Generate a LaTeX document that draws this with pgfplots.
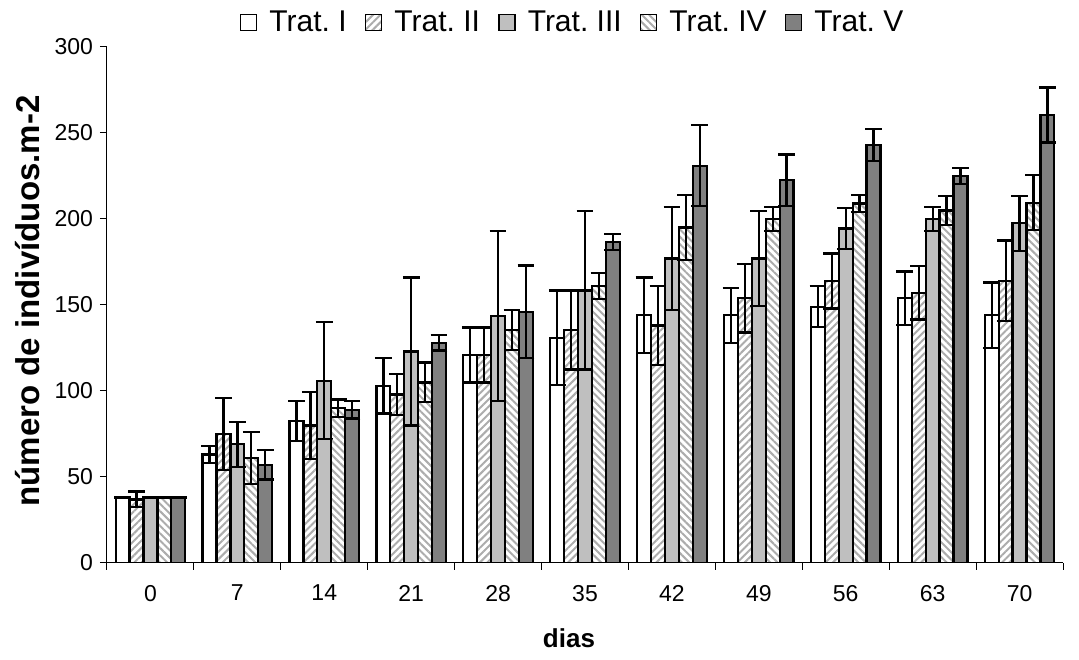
\documentclass[border=0pt]{standalone}
\usepackage{pgfplots}
\pgfplotsset{compat=1.18}
\usepackage{fontspec}
\setmainfont{Liberation Sans}
\usetikzlibrary{patterns,patterns.meta}
\begin{document}
\frenchspacing
\begin{tikzpicture}
\begin{axis}[
  scale only axis, width=478pt, height=258pt,
  xmin=-0.5, xmax=10.5, ymin=0, ymax=300,
  axis x line*=bottom, axis y line*=left,
  axis line style={line width=0.5pt},
  tick align=outside,
  xtick={0,...,10}, xticklabels={0,7,14,21,28,35,42,49,56,63,70},
  major x tick style={draw=none},
  minor xtick={-0.5,0.5,...,10.5},
  minor tick length=3.5pt, major tick length=3.5pt,
  minor x tick style={black, line width=0.5pt},
  ytick={0,50,...,300},
  y tick style={black, line width=0.5pt},
  /pgf/number format/assume math mode=true,
  tick label style={font=\fontsize{11.5}{13}\selectfont},
  xticklabel style={yshift=-4pt},
  xlabel={\textbf{dias}}, ylabel={\textbf{número de indivíduos.m-2}},
  xlabel style={font=\fontsize{13}{15}\selectfont, at={(axis description cs:0.5,0)}, anchor=center, yshift=-37.5pt, xshift=-8pt},
  ylabel style={font=\fontsize{16.5}{18}\selectfont, at={(axis description cs:0,0.5)}, anchor=center, yshift=39.5pt, xshift=2pt},
  ybar, bar width=0.16,
  every axis plot/.append style={draw=black, line width=1.15pt},
  error bars/error mark=|,
  error bars/error bar style={line width=1.15pt, black},
  error bars/error mark options={line width=1.15pt, black, mark size=4.2pt},
  legend columns=5,
  legend style={draw=none, fill=none, at={(0.488,1.047)}, anchor=center,
    font=\fontsize{15}{17}\selectfont,
    /tikz/every even column/.append style={column sep=7pt}},
  legend image code/.code={\draw[#1, line width=0.75pt] (0pt,-4pt) rectangle (8pt,4pt); \path[draw=none, fill=none, pattern=none] (0pt,0pt) -- (12.5pt,0pt);},
]
\addplot[fill=white, bar shift=-0.32, error bars/.cd, y dir=both, y explicit] coordinates {
 (0,38) +- (0,0) (1,63) +- (0,5) (2,82.5) +- (0,11.5) (3,103) +- (0,16)
 (4,121) +- (0,16) (5,131) +- (0,27.5) (6,144) +- (0,22) (7,144) +- (0,16)
 (8,149) +- (0,12) (9,154) +- (0,15.5) (10,144) +- (0,19)};
\addplot[pattern={Lines[angle=45,distance=2.6pt,line width=1pt]}, pattern color=gray!65, bar shift=-0.16, error bars/.cd, y dir=both, y explicit] coordinates {
 (0,37) +- (0,4.5) (1,75) +- (0,21) (2,80) +- (0,19.5) (3,98) +- (0,12)
 (4,121) +- (0,16) (5,135.5) +- (0,23) (6,138) +- (0,23) (7,154) +- (0,20)
 (8,164) +- (0,16) (9,157) +- (0,15.5) (10,164) +- (0,23.5)};
\addplot[fill=black!25, bar shift=0, error bars/.cd, y dir=both, y explicit] coordinates {
 (0,38) +- (0,0) (1,69) +- (0,13) (2,106) +- (0,34) (3,123) +- (0,43)
 (4,143.5) +- (0,49.5) (5,158.5) +- (0,46) (6,177) +- (0,30) (7,177) +- (0,27.5)
 (8,194.5) +- (0,12) (9,200) +- (0,7) (10,197.5) +- (0,16)};
\addplot[pattern={Lines[angle=-45,distance=2.6pt,line width=1pt]}, pattern color=gray!65, bar shift=0.16, error bars/.cd, y dir=both, y explicit] coordinates {
 (0,38) +- (0,0) (1,61) +- (0,15) (2,90) +- (0,5) (3,105) +- (0,11.5)
 (4,135.5) +- (0,11.5) (5,161) +- (0,7.5) (6,195) +- (0,19) (7,200) +- (0,7)
 (8,209) +- (0,5) (9,205) +- (0,8.5) (10,209.5) +- (0,16)};
\addplot[fill=black!50, bar shift=0.32, error bars/.cd, y dir=both, y explicit] coordinates {
 (0,38) +- (0,0) (1,57) +- (0,8.5) (2,89) +- (0,5) (3,128) +- (0,4.5)
 (4,146) +- (0,27) (5,186.5) +- (0,4.7) (6,231) +- (0,23.5) (7,222.5) +- (0,15)
 (8,243) +- (0,9.3) (9,225) +- (0,4.5) (10,260.5) +- (0,16)};
\legend{Trat. I, Trat. II, Trat. III, Trat. IV, Trat. V}
\coordinate (ll) at (rel axis cs:0,0);
\coordinate (ur) at (rel axis cs:1,1);
\end{axis}
\pgfresetboundingbox
\path ([xshift=-53.5pt,yshift=-48.5pt]ll) rectangle ([xshift=8pt,yshift=23.5pt]ur);
\end{tikzpicture}
\end{document}
